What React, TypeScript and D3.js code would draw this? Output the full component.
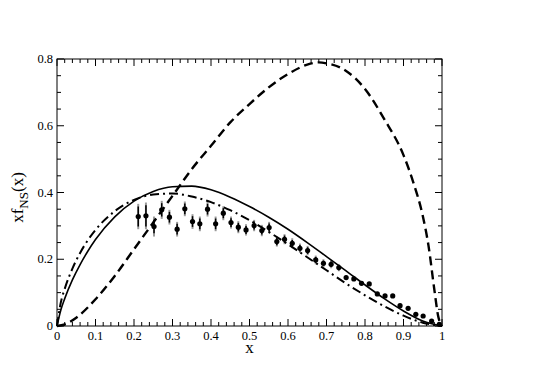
import React from 'react';
import * as d3 from 'd3';

// curves
const solidX = [0, 0.01, 0.02, 0.04, 0.06, 0.08, 0.1, 0.15, 0.2, 0.25, 0.3, 0.35, 0.4, 0.45, 0.5, 0.55, 0.6, 0.65, 0.7, 0.75, 0.8, 0.85, 0.9, 0.95, 1];
const solidY = [0, 0.048, 0.082, 0.138, 0.184, 0.224, 0.259, 0.327, 0.374, 0.403, 0.417, 0.419, 0.408, 0.386, 0.358, 0.326, 0.29, 0.25, 0.208, 0.166, 0.123, 0.082, 0.045, 0.015, 0];

const dashDotX = [0, 0.01, 0.02, 0.04, 0.06, 0.08, 0.1, 0.15, 0.2, 0.25, 0.3, 0.35, 0.4, 0.45, 0.5, 0.55, 0.6, 0.65, 0.7, 0.75, 0.8, 0.85, 0.9, 0.95, 1];
const dashDotY = [0, 0.071, 0.111, 0.172, 0.219, 0.257, 0.288, 0.344, 0.378, 0.394, 0.397, 0.388, 0.371, 0.347, 0.317, 0.282, 0.245, 0.206, 0.167, 0.128, 0.092, 0.059, 0.031, 0.01, 0];

const dashedX = [0, 0.02, 0.05, 0.1, 0.15, 0.2, 0.25, 0.3, 0.35, 0.4, 0.45, 0.5, 0.55, 0.6, 0.65, 0.68, 0.7, 0.75, 0.8, 0.85, 0.9, 0.925, 0.95, 0.965, 0.98, 0.99, 1];
const dashedY = [0, 0.005, 0.025, 0.08, 0.15, 0.23, 0.31, 0.39, 0.47, 0.54, 0.61, 0.665, 0.715, 0.755, 0.783, 0.79, 0.787, 0.765, 0.71, 0.62, 0.512, 0.432, 0.33, 0.24, 0.11, 0.03, 0];

// data points with errors
const dataX = [0.211, 0.231, 0.252, 0.272, 0.292, 0.312, 0.332, 0.352, 0.371, 0.391, 0.412, 0.432, 0.452, 0.471, 0.491, 0.512, 0.532, 0.551, 0.571, 0.591, 0.611, 0.631, 0.651, 0.672, 0.692, 0.712, 0.732, 0.751, 0.771, 0.791, 0.811, 0.832, 0.852, 0.872, 0.891, 0.912, 0.932, 0.951, 0.973, 0.993];
const dataY = [0.328, 0.33, 0.298, 0.348, 0.326, 0.29, 0.351, 0.313, 0.306, 0.35, 0.306, 0.338, 0.31, 0.296, 0.288, 0.301, 0.286, 0.295, 0.253, 0.26, 0.248, 0.233, 0.226, 0.198, 0.188, 0.185, 0.175, 0.145, 0.141, 0.128, 0.126, 0.096, 0.09, 0.09, 0.061, 0.053, 0.035, 0.03, 0.015, 0.005];
const errStat = [0.03, 0.032, 0.02, 0.02, 0.016, 0.016, 0.016, 0.016, 0.016, 0.016, 0.016, 0.015, 0.013, 0.013, 0.012, 0.012, 0.012, 0.012, 0.011, 0.011, 0.01, 0.01, 0.01, 0.009, 0.008, 0.008, 0.008, 0.005, 0.004, 0.004, 0.004, 0.003, 0.003, 0.003, 0.002, 0.002, 0.002, 0.002, 0.001, 0.001];
const errTot = [0.038, 0.04, 0.03, 0.027, 0.022, 0.022, 0.022, 0.022, 0.022, 0.022, 0.022, 0.021, 0.018, 0.018, 0.017, 0.017, 0.017, 0.017, 0.015, 0.015, 0.015, 0.014, 0.014, 0.013, 0.012, 0.012, 0.011, 0.007, 0.006, 0.006, 0.006, 0.004, 0.004, 0.004, 0.003, 0.003, 0.003, 0.002, 0.002, 0.002];

const xMajor = [0, 0.1, 0.2, 0.3, 0.4, 0.5, 0.6, 0.7, 0.8, 0.9, 1];
const yMajor = [0, 0.2, 0.4, 0.6, 0.8];

const App = () => {
  const width = 545;
  const height = 385;
  const margin = { top: 59, right: 103, bottom: 59, left: 57 };
  const innerW = width - margin.left - margin.right;
  const innerH = height - margin.top - margin.bottom;

  const x = d3.scaleLinear().domain([0, 1]).range([0, innerW]);
  const y = d3.scaleLinear().domain([0, 0.8]).range([innerH, 0]);

  const line = d3
    .line<[number, number]>()
    .x((d) => x(d[0]))
    .y((d) => y(d[1]))
    .curve(d3.curveMonotoneX);

  const solid = line(solidX.map((v, i) => [v, solidY[i]]));
  const dashDot = line(dashDotX.map((v, i) => [v, dashDotY[i]]));
  const dashed = line(dashedX.map((v, i) => [v, dashedY[i]]));

  const xMinor = d3.range(0, 1.0001, 0.02).filter((v) => Math.abs(v * 10 - Math.round(v * 10)) > 1e-6);
  const yMinor = d3.range(0, 0.8001, 0.05).filter((v) => Math.abs(v * 5 - Math.round(v * 5)) > 1e-6);

  const font = 'Liberation Serif, Times New Roman, serif';

  return (
    <svg width={width} height={height} style={{ position: 'absolute', left: 0, top: 0, background: '#fff' }}>
      <g transform={`translate(${margin.left},${margin.top})`}>
        {/* data: total error (grey) then stat (black) */}
        {dataX.map((v, i) => (
          <g key={'d' + i}>
            <line x1={x(v)} x2={x(v)} y1={y(dataY[i] - errTot[i])} y2={y(dataY[i] + errTot[i])} stroke='#9a9a9a' strokeWidth={2} />
            <line x1={x(v)} x2={x(v)} y1={y(dataY[i] - errStat[i])} y2={y(dataY[i] + errStat[i])} stroke='#000' strokeWidth={1.5} />
            <circle cx={x(v)} cy={y(dataY[i])} r={2.6} fill='#000' />
          </g>
        ))}

        <path d={solid ?? ''} fill='none' stroke='#000' strokeWidth={1.6} />
        <path d={dashDot ?? ''} fill='none' stroke='#000' strokeWidth={2} strokeDasharray='9,4,2,4' />
        <path d={dashed ?? ''} fill='none' stroke='#000' strokeWidth={2.4} strokeDasharray='9,5' />

        {/* frame */}
        <rect x={0} y={0} width={innerW} height={innerH} fill='none' stroke='#000' strokeWidth={1} />

        {/* ticks, pointing in on all four sides */}
        {xMajor.map((t) => (
          <g key={'xm' + t}>
            <line x1={x(t)} x2={x(t)} y1={innerH} y2={innerH - 7} stroke='#000' />
            <line x1={x(t)} x2={x(t)} y1={0} y2={7} stroke='#000' />
            <text x={x(t)} y={innerH + 14} textAnchor='middle' fontFamily={font} fontSize={12.5}>
              {t}
            </text>
          </g>
        ))}
        {xMinor.map((t) => (
          <g key={'xn' + t}>
            <line x1={x(t)} x2={x(t)} y1={innerH} y2={innerH - 4} stroke='#000' />
            <line x1={x(t)} x2={x(t)} y1={0} y2={4} stroke='#000' />
          </g>
        ))}
        {yMajor.map((t) => (
          <g key={'ym' + t}>
            <line x1={0} x2={7} y1={y(t)} y2={y(t)} stroke='#000' />
            <line x1={innerW} x2={innerW - 7} y1={y(t)} y2={y(t)} stroke='#000' />
            <text x={-4} y={y(t) + 4} textAnchor='end' fontFamily={font} fontSize={12.5}>
              {t}
            </text>
          </g>
        ))}
        {yMinor.map((t) => (
          <g key={'yn' + t}>
            <line x1={0} x2={4} y1={y(t)} y2={y(t)} stroke='#000' />
            <line x1={innerW} x2={innerW - 4} y1={y(t)} y2={y(t)} stroke='#000' />
          </g>
        ))}

        <text x={innerW / 2} y={innerH + 27} textAnchor='middle' fontFamily={font} fontSize={17}>
          x
        </text>
        <text transform={`translate(-34,${innerH / 2 + 5}) rotate(-90)`} textAnchor='middle' fontFamily={font} fontSize={17}>
          xf<tspan dy={5} fontSize={13}>NS</tspan>
          <tspan dy={-5}>(x)</tspan>
        </text>
      </g>
    </svg>
  );
};

export default App;
